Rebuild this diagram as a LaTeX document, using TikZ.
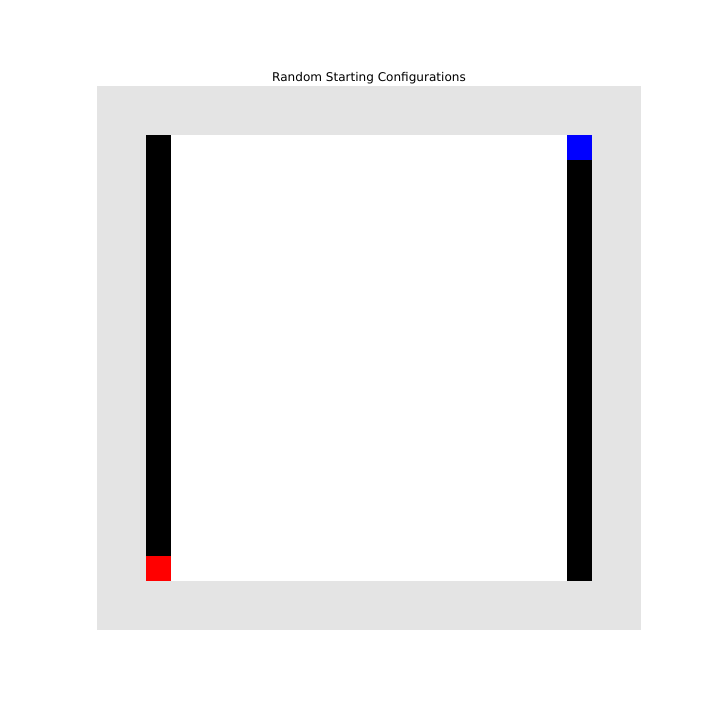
\documentclass[tikz,border=0pt]{standalone}
\usepackage{fontspec}
\setmainfont{DejaVu Sans}
\usepackage{xcolor}
\usepackage{tikz}
\usetikzlibrary{positioning}
\definecolor{boardGray}{RGB}{228,228,228}
\definecolor{agentRed}{RGB}{255,0,0}
\definecolor{agentBlue}{RGB}{0,0,255}

\begin{document}
\begin{tikzpicture}[x=0.01in,y=-0.01in]
    % canvas
    \fill[white] (0,0) rectangle (720,720);
    \useasboundingbox (0,0) rectangle (720,720);

    % title
    \node[font=\fontsize{8.7}{10}\selectfont] (title) at (369,78) {Random Starting Configurations};

    % board, 22 x 22 cells
    \begin{scope}[shift={(97,86)}, scale=24.727]
        \fill[boardGray] (0,0) rectangle (22,22);
        \fill[white] (2,2) rectangle (20,20);

        % left trail and red start
        \fill[black] (2,2) rectangle (3,19);
        \fill[agentRed] (2,19) rectangle (3,20);

        % right trail and blue start
        \fill[agentBlue] (19,2) rectangle (20,3);
        \fill[black] (19,3) rectangle (20,20);
    \end{scope}
\end{tikzpicture}
\end{document}
